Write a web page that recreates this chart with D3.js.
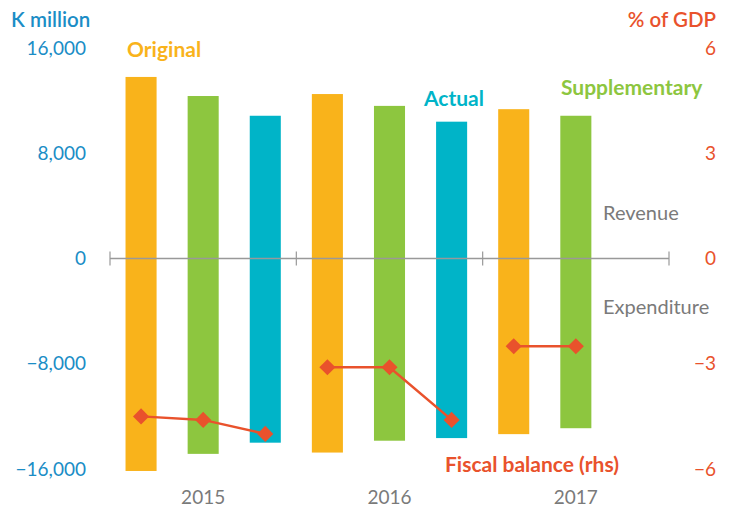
<!DOCTYPE html>
<html>
<head>
<meta charset="utf-8">
<script src="https://cdn.jsdelivr.net/npm/d3@7"></script>
<style>
  body { margin: 0; background: #fff; }
  svg { display: block; }
  text { font-family: Lato, "Open Sans", sans-serif; }
</style>
</head>
<body>
<svg id="chart" width="730" height="507"></svg>
<script>
// ---- data ----
const years = ["2015", "2016", "2017"];
const series = ["Original", "Supplementary", "Actual"];
// revenue (positive) and expenditure (negative), K million
const barYear   = ["2015", "2015", "2015", "2016", "2016", "2016", "2017", "2017"];
const barSeries = ["Original", "Supplementary", "Actual", "Original", "Supplementary", "Actual", "Original", "Supplementary"];
const revenue     = [13800, 12350, 10850, 12500, 11600, 10400, 11350, 10850];
const expenditure = [-16150, -14850, -14000, -14750, -13850, -13650, -13350, -12900];
// fiscal balance, % of GDP (rhs)
const fiscalBalance = [-4.5, -4.6, -5.0, -3.1, -3.1, -4.6, -2.5, -2.5];
const leftTicks  = [16000, 8000, 0, -8000, -16000];
const rightTicks = [6, 3, 0, -3, -6];

const colors = { Original: "#F9B31B", Supplementary: "#8DC63F", Actual: "#00B4C8" };
const lineColor = "#E9522C";
const leftColor = "#1B8DC6";
const grey = "#7a7a7a";

const svg = d3.select("#chart");

const x0 = d3.scaleBand().domain(years).range([110, 669]).padding(0);
const x1 = d3.scaleBand().domain(series).range([0, x0.bandwidth()]).paddingInner(0.5).paddingOuter(0.25);
const yL = d3.scaleLinear().domain([-16000, 16000]).range([469, 48]);
const yR = d3.scaleLinear().domain([-6, 6]).range([469, 48]);

const barX = i => x0(barYear[i]) + x1(barSeries[i]);

// bars
const idx = d3.range(revenue.length);
svg.append("g").selectAll("rect.rev").data(idx).join("rect")
  .attr("x", i => barX(i)).attr("width", x1.bandwidth())
  .attr("y", i => yL(revenue[i])).attr("height", i => yL(0) - yL(revenue[i]))
  .attr("fill", i => colors[barSeries[i]]);
svg.append("g").selectAll("rect.exp").data(idx).join("rect")
  .attr("x", i => barX(i)).attr("width", x1.bandwidth())
  .attr("y", yL(0)).attr("height", i => yL(expenditure[i]) - yL(0))
  .attr("fill", i => colors[barSeries[i]]);

// zero axis with year ticks
const axisG = svg.append("g").attr("transform", `translate(0,${yL(0)})`);
axisG.append("line").attr("x1", 110).attr("x2", 669).attr("stroke", "#999").attr("stroke-width", 1.5);
const boundaries = years.map(y => x0(y)).concat([x0.range()[1]]);
axisG.selectAll("line.tk").data(boundaries).join("line")
  .attr("x1", d => d).attr("x2", d => d).attr("y1", -7).attr("y2", 7)
  .attr("stroke", "#999").attr("stroke-width", 1.2);

// year labels
svg.append("g").selectAll("text").data(years).join("text")
  .attr("x", d => x0(d) + x0.bandwidth() / 2).attr("y", 504)
  .attr("text-anchor", "middle").attr("fill", grey).attr("font-size", 19)
  .text(d => d);

// left axis labels
const fmt = d => (d < 0 ? "\u2212" : "") + d3.format(",")(Math.abs(d));
svg.append("g").selectAll("text").data(leftTicks).join("text")
  .attr("x", 86).attr("y", d => yL(d)).attr("dy", "0.35em")
  .attr("text-anchor", "end").attr("fill", leftColor).attr("font-size", 19)
  .text(fmt);
svg.append("text").attr("x", 11).attr("y", 27).attr("fill", leftColor)
  .attr("font-size", 20.5).attr("font-weight", 600).text("K million");

// right axis labels
svg.append("g").selectAll("text").data(rightTicks).join("text")
  .attr("x", 716).attr("y", d => yR(d)).attr("dy", "0.35em")
  .attr("text-anchor", "end").attr("fill", lineColor).attr("font-size", 19)
  .text(d => (d < 0 ? "\u2212" : "") + Math.abs(d));
svg.append("text").attr("x", 716).attr("y", 27).attr("text-anchor", "end").attr("fill", lineColor)
  .attr("font-size", 20.5).attr("font-weight", 600).text("% of GDP");

// fiscal balance line
const lx = i => barX(i) + x1.bandwidth() / 2;
const segs = [[0, 1, 2], [3, 4, 5], [6, 7]];
const line = d3.line().x(i => lx(i)).y(i => yR(fiscalBalance[i]));
svg.append("g").selectAll("path").data(segs).join("path")
  .attr("d", line).attr("fill", "none").attr("stroke", lineColor).attr("stroke-width", 2.5);
svg.append("g").selectAll("path").data(idx).join("path")
  .attr("d", d3.symbol().type(d3.symbolSquare).size(130))
  .attr("transform", i => `translate(${lx(i)},${yR(fiscalBalance[i])}) rotate(45)`)
  .attr("fill", lineColor);

// annotations
const ann = [
  { t: "Original", x: 127, y: 57, c: colors.Original, w: 700, s: 21 },
  { t: "Actual", x: 424, y: 106, c: colors.Actual, w: 700, s: 21 },
  { t: "Supplementary", x: 561, y: 95, c: colors.Supplementary, w: 700, s: 21 },
  { t: "Revenue", x: 603, y: 220, c: grey, w: 400, s: 20 },
  { t: "Expenditure", x: 603, y: 314, c: grey, w: 400, s: 20 },
  { t: "Fiscal balance (rhs)", x: 445, y: 472, c: lineColor, w: 700, s: 21 }
];
svg.append("g").selectAll("text").data(ann).join("text")
  .attr("x", d => d.x).attr("y", d => d.y).attr("fill", d => d.c)
  .attr("font-weight", d => d.w).attr("font-size", d => d.s).text(d => d.t);
</script>
</body>
</html>
